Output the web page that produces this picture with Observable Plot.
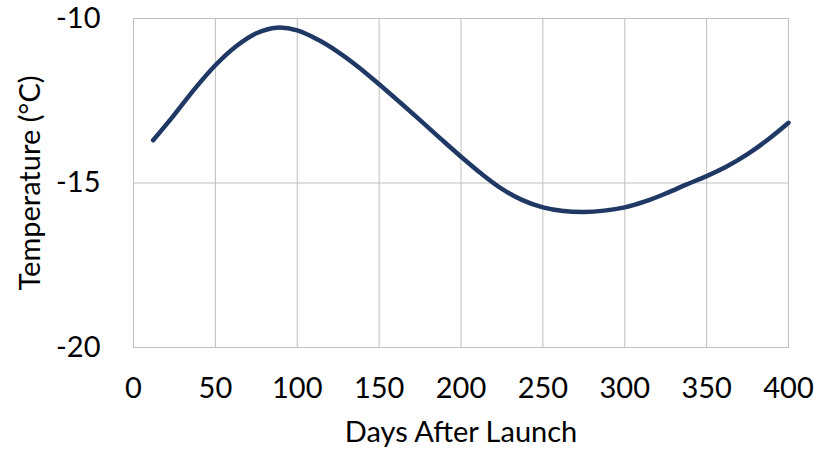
<!DOCTYPE html>
<html>
<head>
<meta charset="utf-8">
<script src="https://cdn.jsdelivr.net/npm/d3@7"></script>
<script src="https://cdn.jsdelivr.net/npm/@observablehq/plot@0.6"></script>
<style>
  html, body { margin: 0; padding: 0; background: #fff; }
  svg { display: block; }
</style>
</head>
<body>
<div id="chart"></div>
<script>
const days = [12, 25, 37.5, 50, 62.5, 75, 87.5, 100, 112.5, 125, 137.5, 150, 162.5, 175, 187.5, 200, 212.5, 225, 237.5, 250, 262.5, 275, 287.5, 300, 312.5, 325, 337.5, 350, 362.5, 375, 387.5, 400];
const temps = [-13.70, -12.92, -12.13, -11.42, -10.85, -10.45, -10.28, -10.36, -10.64, -11.02, -11.48, -12.00, -12.54, -13.09, -13.65, -14.20, -14.72, -15.18, -15.52, -15.74, -15.85, -15.88, -15.84, -15.74, -15.56, -15.32, -15.05, -14.79, -14.49, -14.12, -13.68, -13.17];
const xTicks = [0, 50, 100, 150, 200, 250, 300, 350, 400];
const yTicks = [-20, -15, -10];
const xLabel = "Days After Launch";
const yLabel = "Temperature (°C)";

const data = days.map((d, i) => ({day: d, temp: temps[i]}));

const chart = Plot.plot({
  width: 814,
  height: 449,
  marginLeft: 133,
  marginRight: 26,
  marginTop: 18,
  marginBottom: 102,
  style: {fontFamily: "Lato, 'Open Sans', sans-serif", fontSize: "29px", color: "#000", background: "#fff"},
  x: {domain: [0, 400]},
  y: {domain: [-20, -10]},
  marks: [
    Plot.gridX(xTicks, {stroke: "#bfbfbf", strokeOpacity: 1, strokeWidth: 1}),
    Plot.gridY(yTicks, {stroke: "#bfbfbf", strokeOpacity: 1, strokeWidth: 1}),
    Plot.frame({stroke: "#bfbfbf", strokeWidth: 1}),
    Plot.axisX(xTicks, {tickSize: 0, tickPadding: 30, label: null, fontSize: 29, tickFormat: d => String(d)}),
    Plot.axisY(yTicks, {tickSize: 0, tickPadding: 33, label: null, fontSize: 29, tickFormat: d => String(d)}),
    Plot.line(data, {x: "day", y: "temp", stroke: "#1f3864", strokeWidth: 4.5, curve: "catmull-rom"}),
    Plot.text([xLabel], {text: d => d, frameAnchor: "bottom", dy: 94, fontSize: 29}),
    Plot.text([yLabel], {text: d => d, frameAnchor: "left", textAnchor: "middle", dx: -103, rotate: -90, fontSize: 29})
  ]
});
document.getElementById("chart").appendChild(chart);
</script>
</body>
</html>
